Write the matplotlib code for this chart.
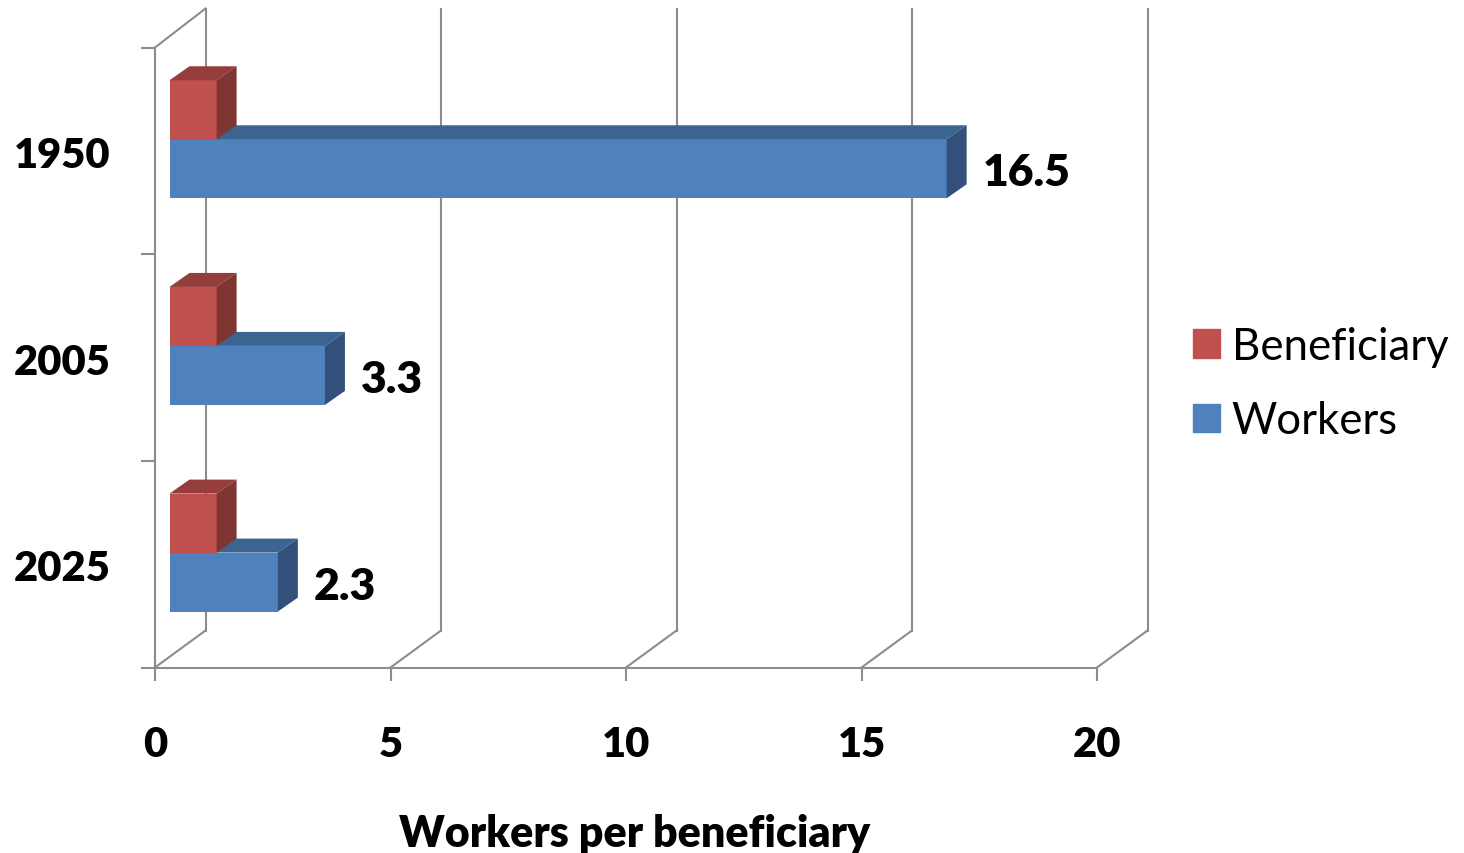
import matplotlib
matplotlib.use('Agg')
import matplotlib.pyplot as plt
from matplotlib.patches import Patch

years = ['1950', '2005', '2025']
workers = [16.5, 3.3, 2.3]
beneficiary = [1.0, 1.0, 1.0]
xticks = [0, 5, 10, 15, 20]

W, H = 1464, 854
plt.rcParams['font.family'] = ['Lato', 'DejaVu Sans']

fig = plt.figure(figsize=(W / 100, H / 100), dpi=100)
ax = fig.add_axes([155 / W, 1 - 668.5 / H, (1097 - 155) / W, (667 - 47) / H])
ax.set_xlim(0, 20)
ax.set_ylim(2.5, -0.5)

# pixels to data units
ux = 20 / (1097 - 155)
uy = 3 / (667 - 47)

wall_dx, wall_dy = 50.5 * ux, 37 * uy
bar_dx, bar_dy = 20 * ux, 14 * uy
start = 14.5 * ux
bar_h = 59 * uy
mid = -0.056
grey = '#8c8c8c'
weight = 'heavy'

# walls and floor
for v in xticks:
    ax.plot([v, v + wall_dx], [2.5, 2.5 - wall_dy], color=grey, lw=1.5, clip_on=False, zorder=1)
    ax.plot([v + wall_dx, v + wall_dx], [2.5 - wall_dy, -0.5 - 39 * uy], color=grey, lw=1.5,
            clip_on=False, zorder=1)
ax.plot([0, wall_dx], [-0.5, -0.5 - 39 * uy], color=grey, lw=1.5, clip_on=False, zorder=1)


def box(y, val, front, top, side, z):
    # y is the top edge of the front face
    ax.barh(y + bar_h / 2, val, height=bar_h, left=start, color=front, zorder=z)
    x1 = start + val
    ax.fill([start, x1, x1 + bar_dx, start + bar_dx], [y, y, y - bar_dy, y - bar_dy],
            color=top, lw=0, zorder=z)
    ax.fill([x1, x1 + bar_dx, x1 + bar_dx, x1], [y, y - bar_dy, y + bar_h - bar_dy, y + bar_h],
            color=side, lw=0, zorder=z)


for i, year in enumerate(years):
    box(i + mid, workers[i], '#4f81bd', '#3c6491', '#325079', 3)
    box(i + mid - bar_h, beneficiary[i], '#c0504d', '#953d3b', '#7f3633', 4)
    ax.text(start + workers[i] + bar_dx + 16 * ux, i + mid + bar_h / 2 + 3.5 * uy, str(workers[i]),
            fontsize=32, fontweight=weight, va='center', ha='left', zorder=5)

for s in ['top', 'right']:
    ax.spines[s].set_visible(False)
for s in ['left', 'bottom']:
    ax.spines[s].set_color(grey)
    ax.spines[s].set_linewidth(1.5)
    ax.spines[s].set_zorder(2)

ax.set_xticks(xticks)
ax.set_xticklabels(xticks, fontsize=30, fontweight=weight)
ax.tick_params(axis='x', length=9, width=1.5, color=grey, pad=32.5)

ax.set_yticks([-0.5, 0.5, 1.5, 2.5])
ax.set_yticklabels([])
ax.tick_params(axis='y', which='major', length=10, width=1.5, color=grey)
ax.set_yticks([0.003, 1.003, 2.003], minor=True)
ax.set_yticklabels(years, minor=True, fontsize=30, fontweight=weight)
ax.tick_params(axis='y', which='minor', length=0, pad=32)

ax.set_xlabel('Workers per beneficiary', fontsize=31, fontweight=weight)
ax.xaxis.set_label_coords(0.509, -0.235)

handles = [Patch(color='#c0504d'), Patch(color='#4f81bd')]
ax.legend(handles, ['Beneficiary', 'Workers'], frameon=False, fontsize=31.5,
          loc='center left', bbox_to_anchor=(1.102, 0.458), handlelength=0.61, handleheight=0.61,
          handletextpad=0.27, labelspacing=0.76, borderaxespad=0, borderpad=0)

fig.savefig('out.png', dpi=100)
